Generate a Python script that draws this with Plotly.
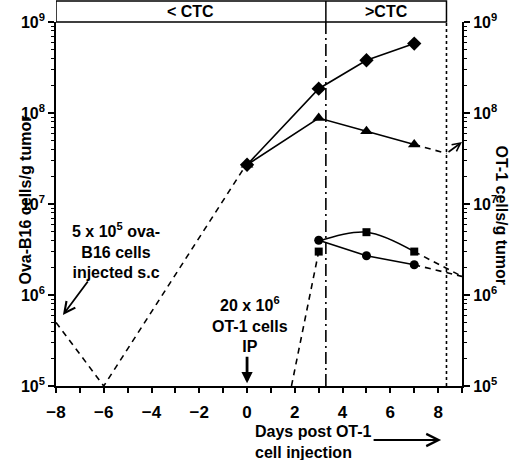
import plotly.graph_objects as go

# tumour (Ova-B16) cells per g, left axis
pre_days = [-8, -6, 0]
pre_tumor = [5.0e5, 1.0e5, 2.8e7]

diamond_days = [0, 3, 5, 7]
diamond_tumor = [2.7e7, 1.85e8, 3.8e8, 5.8e8]

triangle_days = [0, 3, 5, 7]
triangle_tumor = [2.7e7, 8.8e7, 6.3e7, 4.5e7]
triangle_tail_days = [7, 8.35]
triangle_tail = [4.5e7, 3.6e7]

# OT-1 cells per g, right axis
square_days = [3, 5, 7]
square_ot1 = [3.0e6, 4.9e6, 3.0e6]
square_curve = [3.9e6, 4.9e6, 3.0e6]
circle_days = [3, 5, 7]
circle_ot1 = [4.0e6, 2.7e6, 2.15e6]
rise_days = [1.86, 3]
rise_ot1 = [1.0e5, 3.0e6]
tail_days = [7, 9]
square_tail = [3.0e6, 1.6e6]
circle_tail = [2.15e6, 1.6e6]

ctc_day = 3.3
end_day = 8.35

x_ticks = [-8, -6, -4, -2, 0, 2, 4, 6, 8]
y_ticks = [1e5, 1e6, 1e7, 1e8, 1e9]
y_labels = ["10<sup>5</sup>", "10<sup>6</sup>", "10<sup>7</sup>", "10<sup>8</sup>", "10<sup>9</sup>"]

FONT = "Arial, 'Liberation Sans', sans-serif"
BLACK = "black"
DASH = "6px,5px"

fig = go.Figure()

# empty trace so the label-only twin of the left axis gets drawn
fig.add_trace(go.Scatter(x=[], y=[], yaxis="y3", showlegend=False, hoverinfo="skip"))


def line(x, y, dash="solid", axis="y", shape="linear"):
    fig.add_trace(go.Scatter(
        x=x, y=y, yaxis=axis, mode="lines",
        line=dict(color=BLACK, width=1.6, dash=dash, shape=shape),
        hoverinfo="skip", showlegend=False,
    ))


def points(x, y, symbol, size, axis="y"):
    fig.add_trace(go.Scatter(
        x=x, y=y, yaxis=axis, mode="markers",
        marker=dict(symbol=symbol, size=size, color=BLACK),
        hoverinfo="skip", showlegend=False, cliponaxis=False,
    ))


# tumour growth
line(pre_days, pre_tumor, dash=DASH)
line(diamond_days, diamond_tumor)
line(triangle_days, triangle_tumor)
line(triangle_tail_days, triangle_tail, dash=DASH)
points(diamond_days, diamond_tumor, "diamond", 11)
points(triangle_days, triangle_tumor, "triangle-up", 11)

# OT-1 cells
line(rise_days, rise_ot1, dash=DASH, axis="y2")
line(square_days, square_curve, axis="y2", shape="spline")
line(circle_days, circle_ot1, axis="y2")
line(tail_days, square_tail, dash=DASH, axis="y2")
line(tail_days, circle_tail, dash=DASH, axis="y2")
points(square_days, square_ot1, "square", 8, axis="y2")
points(circle_days, circle_ot1, "circle", 9, axis="y2")

# header band and vertical markers
head = 21 / 364
fig.add_shape(type="rect", xref="x", yref="paper", x0=-8, x1=end_day, y0=1, y1=1 + head,
              line=dict(color=BLACK, width=1.5))
fig.add_shape(type="line", xref="x", yref="paper", x0=ctc_day, x1=ctc_day, y0=1, y1=1 + head,
              line=dict(color=BLACK, width=1.5))
fig.add_shape(type="line", xref="x", yref="paper", x0=ctc_day, x1=ctc_day, y0=0, y1=1,
              line=dict(color=BLACK, width=1.6, dash="12px,4px,2px,4px"))
fig.add_shape(type="line", xref="x", yref="paper", x0=end_day, x1=end_day, y0=0, y1=1,
              line=dict(color=BLACK, width=1.6, dash="dot"))

tf = dict(family=FONT, size=16, color=BLACK, weight="bold")
for label, xc in [("< CTC", (-8 + ctc_day) / 2), (">CTC", (ctc_day + end_day) / 2)]:
    fig.add_annotation(text=label, x=xc, y=1 + head / 2, xref="x", yref="paper",
                       showarrow=False, font=tf, yanchor="middle")

fig.add_annotation(text="5 x 10<sup>5</sup> ova-<br>B16 cells<br>injected s.c",
                   xref="paper", yref="paper", x=(116 - 56) / 406, y=(386 - 250) / 364,
                   xanchor="center", yanchor="middle", showarrow=False, font=tf, align="center")
fig.add_annotation(text="20 x 10<sup>6</sup><br>OT-1 cells<br>IP",
                   xref="paper", yref="paper", x=(250 - 56) / 406, y=(386 - 324) / 364,
                   xanchor="center", yanchor="middle", showarrow=False, font=tf, align="center")
fig.add_annotation(text="Days post OT-1<br>cell injection",
                   xref="paper", yref="paper", x=(253 - 56) / 406, y=(386 - 442) / 364,
                   xanchor="left", yanchor="middle", showarrow=False, font=tf, align="left")

# arrows
fig.add_annotation(x=-7.71, y=5.78, xref="x", yref="y", text="", showarrow=True,
                   ax=26, ay=-35, arrowhead=5, arrowsize=1.2, arrowwidth=1.8, arrowcolor=BLACK)
fig.add_annotation(x=0, y=5.03, xref="x", yref="y", text="", showarrow=True,
                   ax=0, ay=-28, arrowhead=2, arrowsize=0.8, arrowwidth=2.8, arrowcolor=BLACK)
fig.add_annotation(x=8.125, y=(386 - 440) / 364, xref="x", yref="paper", text="", showarrow=True,
                   ax=-69, ay=0, arrowhead=5, arrowsize=1.2, arrowwidth=2, arrowcolor=BLACK)
fig.add_annotation(x=9, y=7.68, xref="x", yref="y", text="", showarrow=True,
                   ax=-15, ay=11, arrowhead=5, arrowsize=1, arrowwidth=1.6, arrowcolor=BLACK)

# axis titles
fig.add_annotation(text="Ova-B16 cells/g tumor", xref="paper", yref="paper",
                   x=-42 / 406, y=(386 - 200) / 364, textangle=-90, showarrow=False, font=tf)
fig.add_annotation(text="OT-1 cells/g tumor", xref="paper", yref="paper",
                   x=(512 - 56) / 406, y=(386 - 215) / 364, textangle=90, showarrow=False, font=tf)

tick_font = dict(family=FONT, size=16, color=BLACK, weight="bold")
yax = dict(
    type="log", range=[5, 9], tickvals=y_ticks, ticktext=y_labels,
    ticks="outside", ticklen=6, tickwidth=1.6, tickcolor=BLACK,
    minor=dict(ticks="outside", ticklen=3, tickwidth=1.2, tickcolor=BLACK, dtick="D1", showgrid=False),
    showline=True, linewidth=2, linecolor=BLACK, showgrid=False, zeroline=False,
    tickfont=tick_font, automargin=False,
)

fig.update_layout(
    width=520, height=460,
    margin=dict(l=56, r=58, t=22, b=74),
    paper_bgcolor="white", plot_bgcolor="white",
    xaxis=dict(
        range=[-8, 9], tickvals=x_ticks, ticks="outside", ticklen=5, tickwidth=1.6,
        tickcolor=BLACK, ticklabelstandoff=5,
        minor=dict(ticks="outside", ticklen=5, tickwidth=1.6, tickcolor=BLACK, dtick=1, showgrid=False),
        showline=True, linewidth=2, linecolor=BLACK, showgrid=False, zeroline=False,
        tickfont=dict(tick_font, size=17), automargin=False,
    ),
    # left axis: ticks only; its labels sit on a tickless twin so they hug the axis
    yaxis=dict(yax, showticklabels=False),
    yaxis3=dict(type="log", range=[5, 9], tickvals=y_ticks, ticktext=y_labels,
                overlaying="y", side="left", anchor="x", ticks="", showline=False,
                ticklabelstandoff=10, showgrid=False, zeroline=False,
                tickfont=tick_font, automargin=False),
    yaxis2=dict(yax, overlaying="y", side="right", anchor="x"),
)

# page body has an 8px default margin; drop it so the 520x460 figure fills the window
fig.write_html("out.html", config={"displayModeBar": False},
               post_script="document.body.style.margin='0';")
